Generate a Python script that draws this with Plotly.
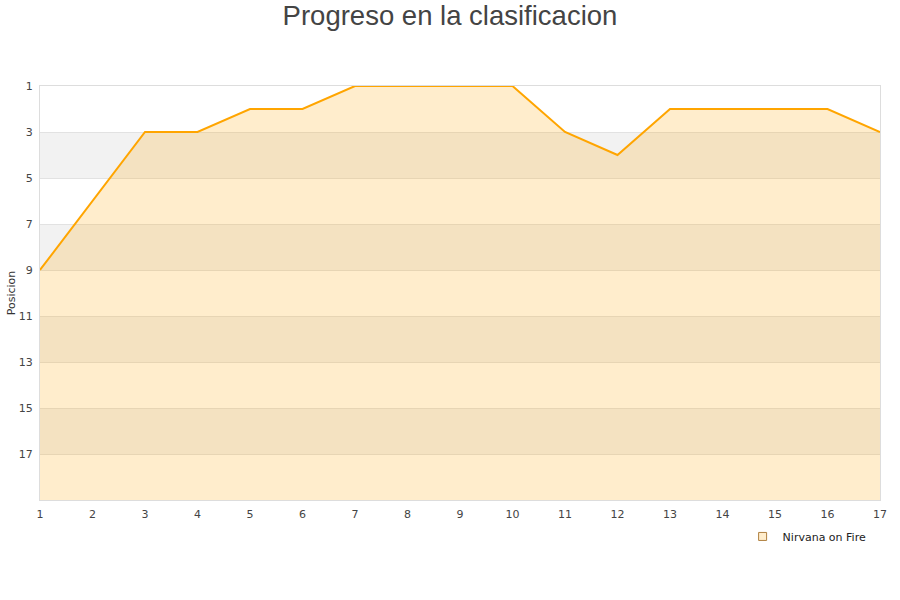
import plotly.graph_objects as go

jornadas = list(range(1, 18))
posiciones = [9, 6, 3, 3, 2, 2, 1, 1, 1, 1, 3, 4, 2, 2, 2, 2, 3]
y_ticks = [1, 3, 5, 7, 9, 11, 13, 15, 17]
team = "Nirvana on Fire"
title = "Progreso en la clasificacion"
y_title = "Posicion"

fig = go.Figure()
# baseline for fill
fig.add_trace(go.Scatter(x=jornadas, y=[19] * len(jornadas), mode="lines",
                         line=dict(width=0, color="rgba(0,0,0,0)"),
                         showlegend=False, hoverinfo="skip"))
fig.add_trace(go.Scatter(x=jornadas, y=posiciones, mode="lines", fill="tonexty",
                         fillcolor="rgba(255,165,0,0.2)",
                         line=dict(color="#ffa500", width=2),
                         showlegend=False, name=team))
fig.add_trace(go.Scatter(x=[None], y=[None], mode="markers", name=team,
                         marker=dict(symbol="square", size=8, color="#ffedcc",
                                     line=dict(color="#b08040", width=1))))

shapes = []
for i, t in enumerate(y_ticks):
    if i % 2 == 1:
        shapes.append(dict(type="rect", xref="paper", yref="y", x0=0, x1=1,
                           y0=t, y1=t + 2, fillcolor="#f2f2f2",
                           line=dict(width=0), layer="below"))

fig.update_layout(
    width=900, height=600,
    title=dict(text=title, x=0.5, xanchor="center", yref="container", y=0.99, yanchor="top",
               font=dict(family="Liberation Sans, Arial", size=27.5, color="#444")),
    margin=dict(l=40, r=20, t=86, b=100),
    plot_bgcolor="white", paper_bgcolor="white",
    font=dict(family="DejaVu Sans", size=11, color="#444"),
    shapes=shapes,
    showlegend=True,
    legend=dict(x=0.99, xanchor="right", y=-0.053, yanchor="top",
                font=dict(size=11, color="#222"), bgcolor="rgba(0,0,0,0)",
                itemwidth=30),
    xaxis=dict(range=[1, 17], tickmode="array", tickvals=jornadas,
               showgrid=False, zeroline=False, showline=True, automargin=False,
               linecolor="#ddd", linewidth=1, mirror=True,
               ticks="outside", ticklen=4, tickcolor="rgba(0,0,0,0)",
               tickfont=dict(size=11, color="#444")),
    yaxis=dict(range=[19, 1], tickmode="array", tickvals=y_ticks,
               showgrid=True, gridcolor="#e2e2e2", zeroline=False, automargin=False,
               showline=True, linecolor="#ddd", linewidth=1, mirror=True,
               ticks="outside", ticklen=4, tickcolor="rgba(0,0,0,0)",
               title=dict(text=y_title, font=dict(size=11, color="#333"), standoff=0),
               tickfont=dict(size=11, color="#444")),
)

fig.write_html("out.html", config={"displayModeBar": False},
               post_script="document.body.style.margin='0';")
